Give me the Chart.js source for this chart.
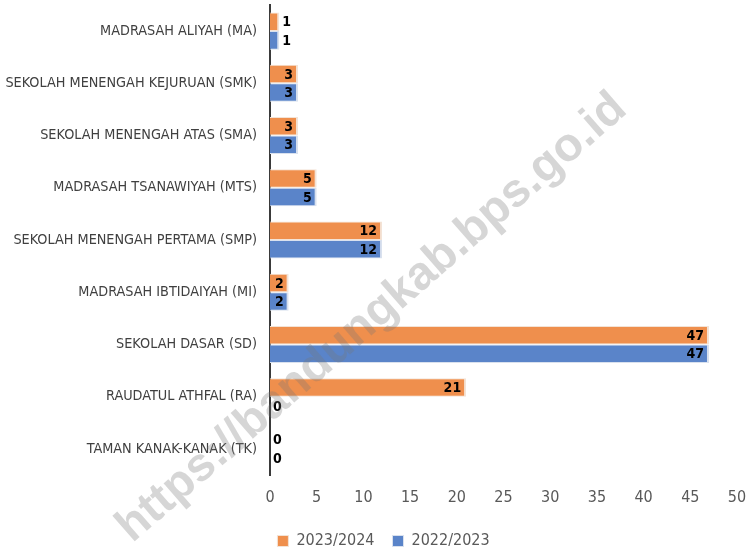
<!DOCTYPE html>
<html>
<head>
<meta charset="utf-8">
<script src="https://cdn.jsdelivr.net/npm/chart.js@4.4.1/dist/chart.umd.min.js"></script>
<style>
  html,body{margin:0;padding:0;background:#fff;}
  #wrap{width:749px;height:551px;}
</style>
</head>
<body>
<div id="wrap"><canvas id="c" width="749" height="551"></canvas></div>
<script>
// data
const categories = [
  'MADRASAH ALIYAH (MA)',
  'SEKOLAH MENENGAH KEJURUAN (SMK)',
  'SEKOLAH MENENGAH ATAS (SMA)',
  'MADRASAH TSANAWIYAH (MTS)',
  'SEKOLAH MENENGAH PERTAMA (SMP)',
  'MADRASAH IBTIDAIYAH (MI)',
  'SEKOLAH DASAR (SD)',
  'RAUDATUL ATHFAL (RA)',
  'TAMAN KANAK-KANAK (TK)'
];
const seriesNames = ['2023/2024', '2022/2023'];
const values2324 = [1, 3, 3, 5, 12, 2, 47, 21, 0];
const values2223 = [1, 3, 3, 5, 12, 2, 47, 0, 0];
const xTicks = [0, 5, 10, 15, 20, 25, 30, 35, 40, 45, 50];

const FONT = '"DejaVu Sans Condensed", "Liberation Sans", Arial, sans-serif';

// value labels: inside end, or just outside when the bar is too short
const valueLabels = {
  id: 'valueLabels',
  afterDatasetsDraw(chart){
    const ctx = chart.ctx;
    ctx.save();
    ctx.font = 'bold 14px ' + FONT;
    ctx.fillStyle = '#000';
    ctx.textBaseline = 'middle';
    chart.data.datasets.forEach((ds, i)=>{
      chart.getDatasetMeta(i).data.forEach((bar, j)=>{
        const txt = String(ds.data[j]);
        const w = ctx.measureText(txt).width;
        const len = bar.x - bar.base;
        if(len > w + 6){ ctx.textAlign = 'right'; ctx.fillText(txt, bar.x - 5, bar.y + 1); }
        else { ctx.textAlign = 'left'; ctx.fillText(txt, bar.x + 3, bar.y + 1); }
      });
    });
    ctx.restore();
  }
};

// legend sits a bit right of centre in the original
const legendShift = {
  id: 'legendShift',
  afterLayout(chart){
    if(chart.legend){ chart.legend.left += 13; chart.legend.right += 13; }
  }
};

// site watermark across the picture
const watermark = {
  id: 'watermark',
  afterDraw(chart){
    const ctx = chart.ctx;
    ctx.save();
    ctx.translate(372, 318);
    ctx.rotate(-41 * Math.PI / 180);
    ctx.font = 'bold 47px "Liberation Sans", Arial, sans-serif';
    ctx.fillStyle = 'rgba(120,120,120,0.3)';
    ctx.textAlign = 'center';
    ctx.textBaseline = 'middle';
    ctx.fillText('https://bandungkab.bps.go.id', 0, 0);
    ctx.restore();
  }
};

new Chart(document.getElementById('c'), {
  type: 'bar',
  data: {
    labels: categories,
    datasets: [
      { label: seriesNames[0], data: values2324, backgroundColor: '#EF8F4D', borderColor: '#F3E3D6', borderWidth: {top:1,right:2,bottom:1,left:0}, borderSkipped: false },
      { label: seriesNames[1], data: values2223, backgroundColor: '#5A84C9', borderColor: '#D9E1EE', borderWidth: {top:1,right:2,bottom:1,left:0}, borderSkipped: false }
    ]
  },
  options: {
    indexAxis: 'y',
    responsive: false,
    animation: false,
    categoryPercentage: 0.71,
    barPercentage: 1.0,
    layout: { padding: { left: 4, right: 12, top: 5, bottom: -8 } },
    scales: {
      x: {
        min: 0, max: 50,
        afterBuildTicks(scale){ scale.ticks = xTicks.map(v => ({ value: v })); },
        afterFit(scale){ scale.height = 40; scale.paddingLeft = 0; scale.paddingRight = 0; },
        grid: { display: false, drawTicks: false },
        border: { display: false },
        ticks: { color: '#595959', font: { family: FONT, size: 16 }, padding: 13 }
      },
      y: {
        afterFit(scale){ scale.width = 266; scale.paddingTop = 0; scale.paddingBottom = 0; },
        grid: { display: false, drawTicks: false },
        border: { display: true, color: '#3a3a3a', width: 2 },
        ticks: { color: '#404040', font: { family: FONT, size: 14.3 }, padding: 13 }
      }
    },
    plugins: {
      legend: {
        position: 'bottom',
        labels: { color: '#595959', font: { family: FONT, size: 16 }, boxWidth: 11, boxHeight: 11, padding: 18 }
      },
      tooltip: { enabled: false }
    }
  },
  plugins: [valueLabels, legendShift, watermark]
});
</script>
</body>
</html>
